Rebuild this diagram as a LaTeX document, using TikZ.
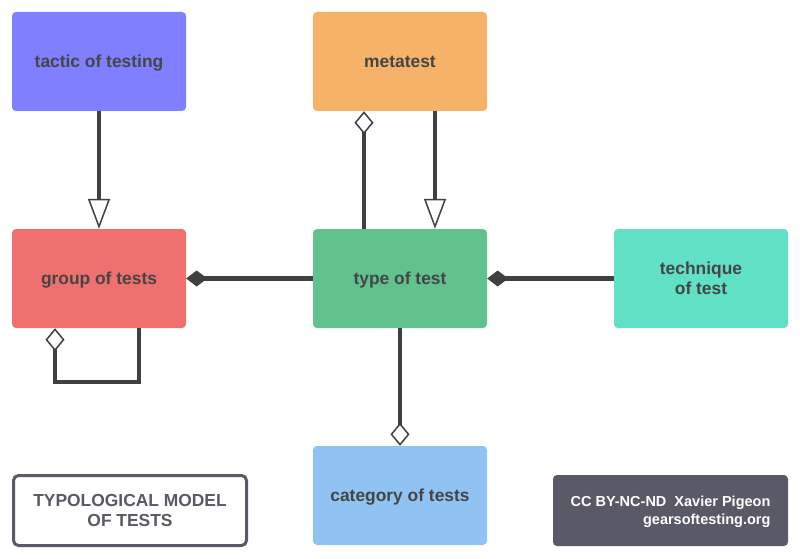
\documentclass[tikz,border=0pt]{standalone}
\usepackage{fontspec}
\setmainfont{Liberation Sans}
\usetikzlibrary{arrows.meta}
\definecolor{cTactic}{HTML}{7F7FFF}
\definecolor{cMeta}{HTML}{F7B26A}
\definecolor{cGroup}{HTML}{F07070}
\definecolor{cType}{HTML}{62C28E}
\definecolor{cTech}{HTML}{60E0C4}
\definecolor{cCat}{HTML}{90C3F2}
\definecolor{cTxt}{HTML}{454545}
\definecolor{cLine}{HTML}{404040}
\definecolor{cSlate}{HTML}{5A5A66}
\tikzset{
  entity/.style={rectangle, rounded corners=4pt, minimum width=174pt, minimum height=99pt,
    inner sep=0pt, align=center, text=cTxt, text depth=0pt, font=\bfseries\fontsize{17.4}{20}\selectfont},
  conn/.style={draw=cLine, line width=4.5pt},
  gen/.style={conn, -{Triangle[length=30pt, width=22pt, line width=1.5pt, fill=white]}},
  agg/.style={conn, -{Diamond[length=23pt, width=19pt, line width=1.5pt, fill=white]}},
  aggstart/.style={conn, {Diamond[length=23pt, width=19pt, line width=1.5pt, fill=white]}-},
  comp/.style={conn, {Diamond[length=21pt, width=16pt, line width=1pt]}-},
}
\begin{document}
\begin{tikzpicture}[x=1pt,y=-1pt]
\useasboundingbox (0,0) rectangle (800,559);
\node[entity, fill=cTactic] (tactic) at (99,61.5) {tactic of testing};
\node[entity, fill=cMeta] (meta) at (400,61.5) {metatest};
\node[entity, fill=cGroup] (group) at (99,278.5) {group of tests};
\node[entity, fill=cType] (type) at (400,278.5) {type of test};
\node[entity, fill=cTech] (tech) at (701,278.5) {technique\\of test};
\node[entity, fill=cCat] (cat) at (400,495.5) {category of tests};

\node[draw=cSlate, line width=3pt, rounded corners=5pt, fill=white, minimum width=233pt,
  minimum height=70pt, align=center, text=cSlate, inner sep=0pt, text depth=0pt,
  font=\bfseries\fontsize{17.4}{20}\selectfont] (title) at (130,510.5) {TYPOLOGICAL MODEL\\OF TESTS};
\node[fill=cSlate, rounded corners=4pt, minimum width=235pt, minimum height=71pt,
  align=right, text=white, inner sep=0pt, text depth=0pt,
  font=\bfseries\fontsize{14.5}{18}\selectfont] (credit) at (670.5,510.5) {CC BY-NC-ND\ \ Xavier Pigeon\\gearsoftesting.org};

\draw[gen] (tactic.south) -- (group.north);
\draw[gen] ([xshift=35pt]meta.south) -- ([xshift=35pt]type.north);
\draw[agg] ([xshift=-36pt]type.north) -- ([xshift=-36pt]meta.south);
\draw[agg] (type.south) -- (cat.north);
\draw[comp] (group.east) -- (type.west);
\draw[comp] (type.east) -- (tech.west);
\coordinate (loopc) at (97,382);
\draw[aggstart] ([xshift=-44pt]group.south) |- (loopc) -| ([xshift=40pt]group.south);
\end{tikzpicture}
\end{document}
